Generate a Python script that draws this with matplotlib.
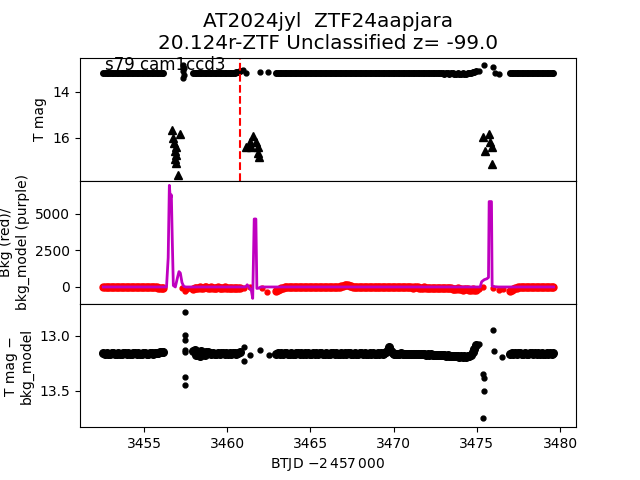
import numpy as np
import matplotlib
matplotlib.use('Agg')
import matplotlib.pyplot as plt

step = 0.1
# start times (BTJD - 2457000) of the four continuous stretches
seg_start = [3452.55, 3457.95, 3462.95, 3477.0]

# T mag per stretch
tmag_s1 = [13.20, 13.20, 13.21, 13.21, 13.20, 13.20, 13.19, 13.20, 13.20, 13.21,
           13.21, 13.20, 13.20, 13.20, 13.19, 13.19, 13.20, 13.20, 13.21, 13.20,
           13.20, 13.20, 13.19, 13.20, 13.20, 13.21, 13.21, 13.20, 13.20, 13.19,
           13.20, 13.20, 13.20, 13.21, 13.20, 13.20, 13.19]
tmag_s2 = [13.19, 13.20, 13.20, 13.21, 13.21, 13.20, 13.20, 13.19, 13.20, 13.20,
           13.21, 13.20, 13.20, 13.19, 13.20, 13.20, 13.21, 13.21, 13.20, 13.20,
           13.19, 13.20, 13.20, 13.20, 13.19, 13.18, 13.16, 13.13, 13.10]
tmag_s3 = [13.20, 13.20, 13.21, 13.20, 13.20, 13.19, 13.20, 13.20, 13.21, 13.21,
           13.20, 13.20, 13.19, 13.20, 13.20, 13.20, 13.21, 13.20, 13.20, 13.19,
           13.20, 13.20, 13.21, 13.21, 13.20, 13.20, 13.20, 13.19, 13.20, 13.20,
           13.21, 13.20, 13.20, 13.19, 13.19, 13.20, 13.20, 13.21, 13.20, 13.20,
           13.20, 13.19, 13.20, 13.20, 13.21, 13.21, 13.20, 13.20, 13.19, 13.20,
           13.20, 13.21, 13.20, 13.20, 13.20, 13.19, 13.20, 13.20, 13.21, 13.20,
           13.20, 13.19, 13.20, 13.20, 13.21, 13.21, 13.20, 13.19, 13.20, 13.20,
           13.20, 13.21, 13.20, 13.20, 13.19, 13.20, 13.20, 13.21, 13.21, 13.20,
           13.20, 13.19, 13.20, 13.20, 13.21, 13.20, 13.20, 13.20, 13.19, 13.20,
           13.20, 13.21, 13.21, 13.20, 13.20, 13.21, 13.21, 13.20, 13.21, 13.21,
           13.21, 13.22, 13.21, 13.21, 13.22, 13.21, 13.21, 13.22, 13.22, 13.21,
           13.22, 13.22, 13.21, 13.22, 13.22, 13.21, 13.21, 13.19, 13.16, 13.13,
           13.10]
tmag_s4 = [13.20, 13.20, 13.21, 13.20, 13.20, 13.19, 13.20, 13.20, 13.21, 13.21,
           13.20, 13.20, 13.19, 13.20, 13.20, 13.20, 13.21, 13.20, 13.20, 13.19,
           13.20, 13.20, 13.21, 13.20, 13.20, 13.19, 13.20]

# background per stretch
bkg_s1 = [0, 10, 20, 10, -10, -20, -10, 10, 20, 30,
          20, 0, -20, -30, -10, 10, 20, 10, 0, -10,
          -20, -10, 10, 20, 10, -10, -20, -30, -10, 0,
          10, 0, -20, -40, -60, -80, -100]
bkg_s2 = [-120, -90, -60, -40, -30, -50, -40, -20, -30, -50,
          -40, -30, -40, -60, -50, -30, -40, -50, -40, -30,
          -40, -50, -60, -50, -40, -60, -80, -70, -90]
bkg_s3 = [-300, -220, -150, -90, -50, -20, 0, 10, 0, -10,
          0, 10, 20, 10, 0, -10, -20, -10, 0, 10,
          20, 10, 0, -10, 0, 10, 20, 30, 20, 10,
          0, -10, -20, -10, 0, 10, 0, 10, 20, 40,
          80, 120, 150, 120, 80, 40, 20, 0, -10, 0,
          20, 10, 0, -10, -20, -10, 0, 10, 20, 10,
          0, -10, -20, -10, 0, 10, 0, -10, -20, -30,
          -20, -10, 0, 10, 0, -10, -20, -30, -20, -10,
          -20, -30, -40, -30, -20, -30, -40, -50, -40, -30,
          -40, -50, -60, -50, -40, -50, -60, -70, -60, -50,
          -60, -80, -100, -90, -80, -100, -120, -140, -120, -100,
          -120, -150, -180, -160, -140, -170, -200, -180, -160, -190,
          -220]
bkg_s4 = [-250, -180, -120, -70, -40, -20, -10, 0, 10, 0,
          -10, -20, -10, 0, 10, 20, 10, 0, -10, -20,
          -10, 0, 10, 0, -10, -20, -10]

# T mag - bkg_model per stretch
dmag_s1 = [13.158, 13.162, 13.156, 13.160, 13.164, 13.158, 13.155, 13.161, 13.163, 13.157,
           13.160, 13.165, 13.159, 13.156, 13.161, 13.158, 13.163, 13.160, 13.155, 13.159,
           13.162, 13.157, 13.161, 13.164, 13.158, 13.156, 13.160, 13.163, 13.157, 13.159,
           13.161, 13.156, 13.158, 13.154, 13.150, 13.146, 13.142]
dmag_s2 = [13.14, 13.13, 13.17, 13.15, 13.18, 13.14, 13.16, 13.17, 13.15, 13.148,
           13.158, 13.162, 13.155, 13.160, 13.164, 13.157, 13.161, 13.155, 13.159, 13.163,
           13.157, 13.160, 13.156, 13.162, 13.158, 13.155, 13.160, 13.154, 13.150]
dmag_s3 = [13.160, 13.156, 13.162, 13.158, 13.164, 13.159, 13.155, 13.161, 13.163, 13.157,
           13.160, 13.165, 13.158, 13.156, 13.162, 13.159, 13.163, 13.157, 13.161, 13.158,
           13.164, 13.160, 13.156, 13.161, 13.158, 13.163, 13.159, 13.155, 13.160, 13.162,
           13.157, 13.161, 13.165, 13.159, 13.156, 13.162, 13.158, 13.163, 13.160, 13.156,
           13.161, 13.158, 13.164, 13.159, 13.155, 13.160, 13.163, 13.157, 13.161, 13.165,
           13.159, 13.156, 13.162, 13.158, 13.163, 13.160, 13.155, 13.161, 13.158, 13.164,
           13.160, 13.156, 13.162, 13.158, 13.161, 13.155, 13.150, 13.130, 13.100, 13.140,
           13.158, 13.163, 13.160, 13.166, 13.161, 13.158, 13.164, 13.167, 13.162, 13.160,
           13.166, 13.163, 13.168, 13.164, 13.161, 13.167, 13.165, 13.162, 13.168, 13.166,
           13.170, 13.166, 13.172, 13.169, 13.174, 13.170, 13.175, 13.172, 13.177, 13.174,
           13.178, 13.175, 13.181, 13.178, 13.183, 13.180, 13.185, 13.182, 13.187, 13.184,
           13.188, 13.185, 13.190, 13.187, 13.191, 13.186, 13.180, 13.170, 13.150, 13.120,
           13.08]
dmag_s4 = [13.160, 13.156, 13.162, 13.158, 13.164, 13.159, 13.155, 13.161, 13.163, 13.157,
           13.160, 13.165, 13.158, 13.156, 13.162, 13.159, 13.163, 13.157, 13.161, 13.158,
           13.164, 13.160, 13.156, 13.161, 13.158, 13.163, 13.159]

# scattered points outside the stretches
tmag_x_t = [3457.36, 3457.38, 3457.36, 3457.38, 3457.36, 3460.95, 3461.12, 3461.97, 3462.47,
            3475.15, 3475.42, 3475.95, 3476.1, 3476.35]
tmag_x_m = [12.82, 12.96, 13.12, 13.26, 13.40, 13.08, 13.17, 13.15, 13.16,
            13.10, 12.85, 12.93, 13.17, 13.22]

# faint points (triangles)
tri_t = [3456.66, 3457.16, 3456.74, 3456.80, 3456.92, 3456.86, 3456.92, 3456.86, 3456.92, 3457.04,
         3461.13, 3461.37, 3461.55, 3461.73, 3461.85, 3461.43, 3461.85, 3461.91,
         3475.35, 3475.75, 3475.49, 3475.90, 3475.79, 3475.93]
tri_m = [15.65, 15.83, 16.00, 16.22, 16.39, 16.57, 16.74, 16.91, 17.09, 17.61,
         16.39, 16.17, 15.91, 16.17, 16.39, 16.39, 16.65, 16.83,
         15.98, 15.83, 16.57, 16.39, 16.17, 17.13]

bkg_x_t = [3457.3, 3457.45, 3457.6, 3461.03, 3461.37, 3462.07, 3462.4,
           3475.15, 3475.4, 3476.0, 3476.35, 3476.55]
bkg_x_v = [-50, -250, -150, -80, -30, -90, -340, -150, -30, -60, -230, -150]

dmag_x_t = [3457.45] * 7 + [3461.03, 3461.03, 3461.37, 3461.97, 3462.5,
                            3475.13, 3475.4, 3475.42, 3475.42, 3475.4, 3476.0, 3476.05, 3476.5]
dmag_x_m = [12.785, 12.99, 13.04, 13.13, 13.15, 13.37, 13.45, 13.10, 13.23, 13.17, 13.13, 13.17,
            13.07, 13.35, 13.38, 13.50, 13.75, 12.95, 13.14, 13.19]

# background model
model_t = [3452.55, 3456.3, 3456.35, 3456.45, 3456.52, 3456.58, 3456.64, 3456.7, 3456.76,
           3456.88, 3457.0, 3457.1, 3457.18, 3457.28, 3457.38, 3457.5,
           3461.1, 3461.2, 3461.3, 3461.45, 3461.53, 3461.62, 3461.72, 3461.78, 3461.9, 3462.0,
           3475.2, 3475.29, 3475.45, 3475.6, 3475.7, 3475.74, 3475.88, 3475.92, 3476.05, 3476.3,
           3479.61]
model_v = [0, 0, 0, 2000, 6950, 6000, 6300, 3000, 100,
           0, 600, 1050, 950, 300, 50, 0,
           0, 150, 0, -250, -780, 4650, 4650, -100, -80, 0,
           0, 360, 500, 560, 650, 5840, 5840, 70, 20, 0,
           0]

t_peak = 3460.77


def seg_times(start, vals):
    return start + step * np.arange(len(vals))


tmag = [tmag_s1, tmag_s2, tmag_s3, tmag_s4]
bkg = [bkg_s1, bkg_s2, bkg_s3, bkg_s4]
dmag = [dmag_s1, dmag_s2, dmag_s3, dmag_s4]
for a, b, c in zip(tmag, bkg, dmag):
    assert len(a) == len(b) == len(c)

t_all = np.concatenate([seg_times(s, v) for s, v in zip(seg_start, tmag)])
tmag_all = np.concatenate(tmag)
bkg_all = np.concatenate(bkg)
dmag_all = np.concatenate(dmag)

ms = 7        # single points
ms_band = 10  # dense stretches

fig, (ax1, ax2, ax3) = plt.subplots(3, 1, sharex=True, figsize=(6.4, 4.8), dpi=100)
plt.subplots_adjust(hspace=0)

ax1.plot(t_all, tmag_all, 'k.', ms=ms + 1)
ax1.plot(tmag_x_t, tmag_x_m, 'k.', ms=ms)
ax1.plot(tri_t, tri_m, 'k^')
ax1.axvline(t_peak, color='r', ls='--')
ax1.set_ylim(17.87, 12.52)
ax1.set_ylabel('T mag')
ax1.text(0.05, 0.9, 's79 cam1ccd3', transform=ax1.transAxes, fontsize=12)
ax1.set_title('AT2024jyl  ZTF24aapjara\n20.124r-ZTF Unclassified z= -99.0', fontsize='x-large')

ax2.plot(t_all, bkg_all, 'r.', ms=ms_band)
ax2.plot(bkg_x_t, bkg_x_v, 'r.', ms=ms)
ax2.plot(model_t, model_v, 'm-', lw=2)
ax2.set_ylim(-1164, 7260)
ax2.set_ylabel('Bkg (red)/\nbkg_model (purple)')

ax3.plot(t_all, dmag_all, 'k.', ms=ms_band + 1)
ax3.plot(dmag_x_t, dmag_x_m, 'k.', ms=ms)
ax3.set_ylim(13.83, 12.71)
ax3.set_ylabel('T mag \u2212\nbkg_model')
ax3.set_xlim(3451.15, 3480.96)
ax3.set_xlabel(r'BTJD $-2\,457\,000$')

plt.savefig('out.png', dpi=100)
